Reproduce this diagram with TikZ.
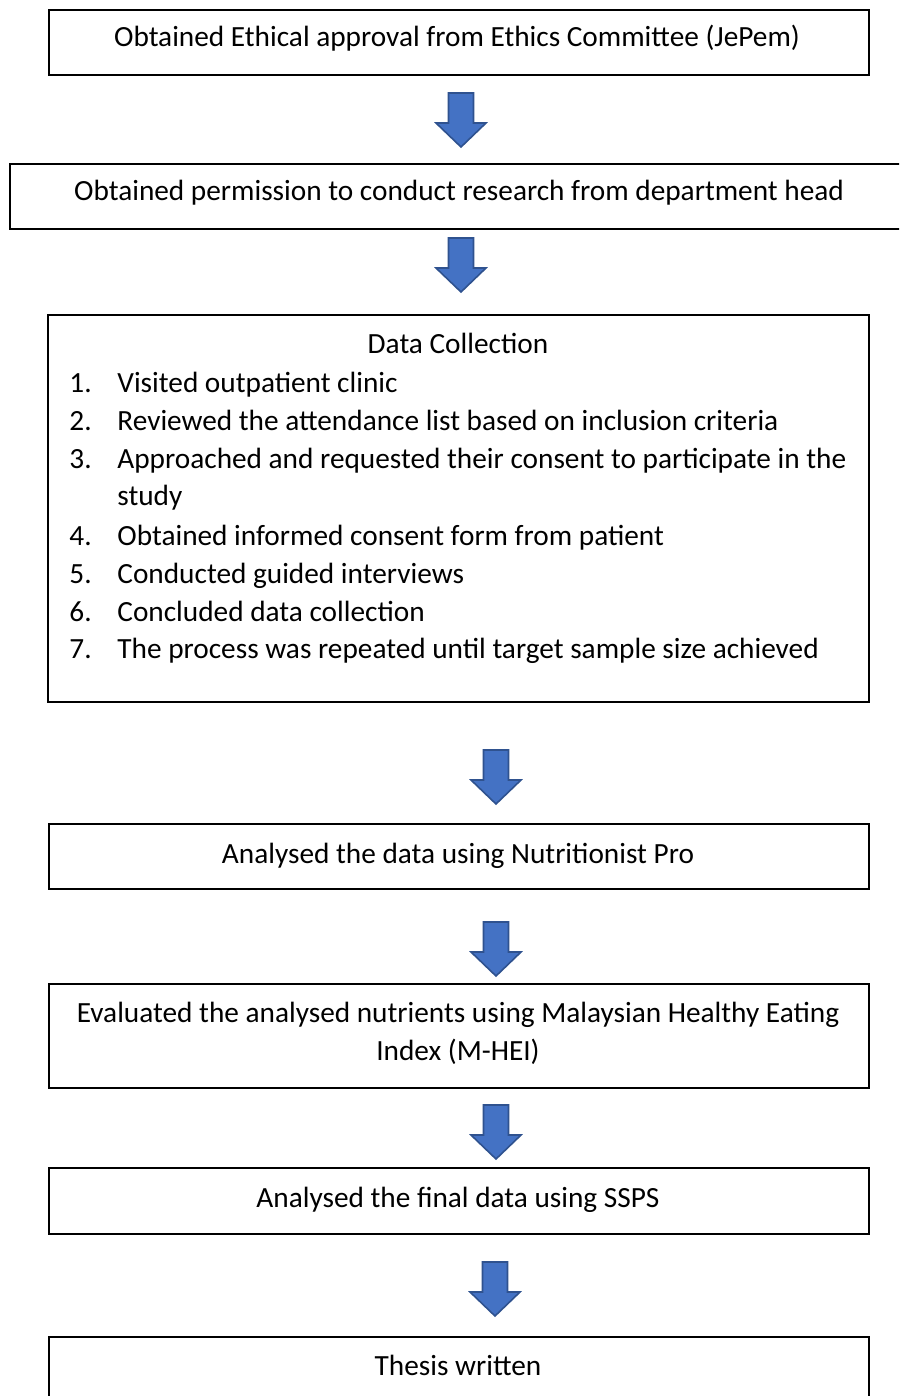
\documentclass[tikz,border=0pt]{standalone}
\usepackage{fontspec}
\setmainfont{Carlito}
\definecolor{arrfill}{HTML}{4472C4}
\definecolor{arrline}{HTML}{2F528F}
\begin{document}
\begin{tikzpicture}[x=0.5pt,y=-0.5pt,
  box/.style={draw=black, line width=1.1pt, rectangle, anchor=north west, inner sep=0pt, minimum width=410pt},
  txt/.style={font=\fontsize{14.65}{19}\selectfont, inner sep=0pt},
  downarr/.pic={\draw[draw=arrline, fill=arrfill, line width=0.8pt, line join=miter]
     (-12.5,0) -- (12.5,0) -- (12.5,30) -- (25,30) -- (0,54) -- (-25,30) -- (-12.5,30) -- cycle;}]
\clip (0,0) rectangle (899,1396);
\fill[white] (0,0) rectangle (899,1396);
% boxes
\node[box, minimum height=32.5pt] (b1) at (48,9) {};
\node[box, minimum height=32.5pt, minimum width=450pt] (b2) at (9,163) {};
\node[box, minimum height=193.5pt, minimum width=410.5pt] (b3) at (47,314) {};
\node[box, minimum height=32.5pt] (b4) at (48,823) {};
\node[box, minimum height=52pt] (b5) at (48,983) {};
\node[box, minimum height=33pt] (b6) at (48,1167) {};
\node[box, minimum height=50pt] (b7) at (48,1336) {};
% texts
\node[txt, anchor=base] (t1) at (457,47) {Obtained Ethical approval from Ethics Committee (JePem)};
\node[txt, anchor=base] (t2) at (459,201) {Obtained permission to conduct research from department head};
\node[txt, anchor=base] (t3) at (458,353) {Data Collection};
\foreach \n/\yy/\s in {1/392/Visited outpatient clinic,
  2/430/Reviewed the attendance list based on inclusion criteria,
  3/468/Approached and requested their consent to participate in the,
  4/545/Obtained informed consent form from patient,
  5/583/Conducted guided interviews,
  6/621/Concluded data collection,
  7/658/The process was repeated until target sample size achieved}{
  \node[txt, anchor=base west] (num\n) at (69,\yy) {\n.};
  \node[txt, anchor=base west] (item\n) at (117,\yy) {\s};
}
\node[txt, anchor=base west] (item3b) at (117,505) {study};
\node[txt, anchor=base] (t4) at (458,863) {Analysed the data using Nutritionist Pro};
\node[txt, anchor=base] (t5a) at (458,1022) {Evaluated the analysed nutrients using Malaysian Healthy Eating};
\node[txt, anchor=base] (t5b) at (458,1060) {Index (M-HEI)};
\node[txt, anchor=base] (t6) at (458,1207) {Analysed the final data using SSPS};
\node[txt, anchor=base] (t7) at (458,1375) {Thesis written};
% arrows
\pic at (461,93) {downarr};
\pic at (461,238) {downarr};
\pic at (496,750) {downarr};
\pic at (496,922) {downarr};
\pic at (496,1105) {downarr};
\pic at (495,1262) {downarr};
\end{tikzpicture}
\end{document}
